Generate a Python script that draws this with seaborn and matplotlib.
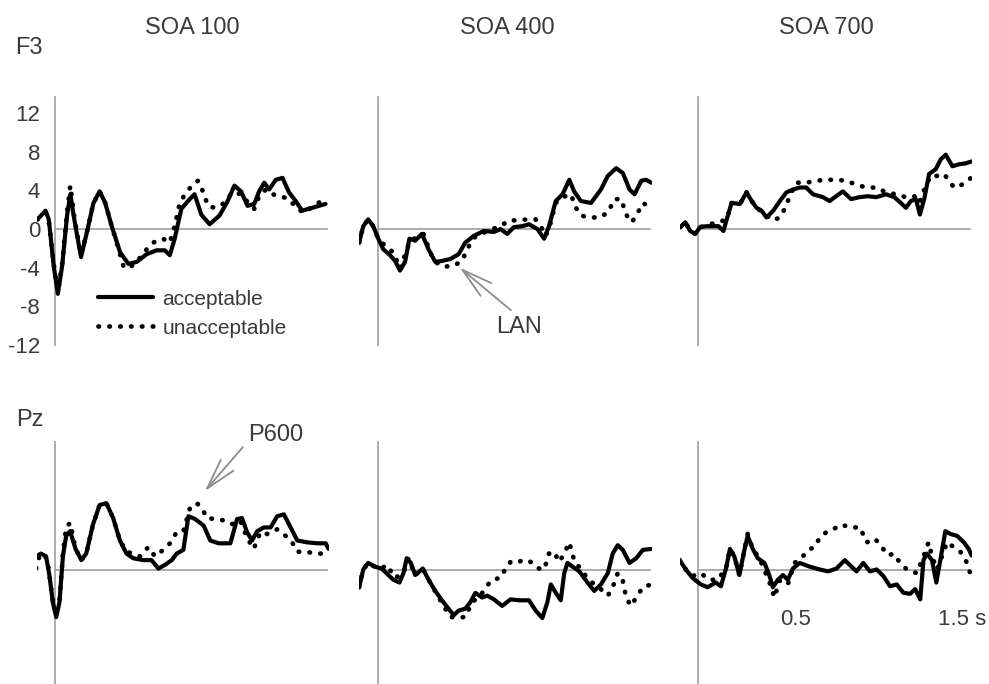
import matplotlib
matplotlib.use("Agg")
import matplotlib.pyplot as plt
import seaborn as sns
import pandas as pd

sns.set_style("white")
plt.rcParams["font.family"] = ["Liberation Sans", "DejaVu Sans"]

# ---------------- data (time in s, amplitude in microvolt) ----------------
conditions = ["acceptable", "unacceptable"]
soa_titles = ["SOA 100", "SOA 400", "SOA 700"]
electrodes = ["F3", "Pz"]
ytick_values = [-12, -8, -4, 0, 4, 8, 12]
xtick_values = [0.5, 1.0, 1.5]

# F3, SOA 100
t_f3_100_acc = [-0.10, -0.055, -0.037, -0.01, 0.013, 0.037, 0.064, 0.082, 0.104, 0.141, 0.174, 0.21, 0.244, 0.275, 0.311, 0.357, 0.403, 0.449, 0.504, 0.559, 0.604, 0.632, 0.659, 0.696, 0.742, 0.769, 0.806, 0.852, 0.907, 0.952, 0.989, 1.026, 1.062, 1.099, 1.126, 1.154, 1.181, 1.218, 1.255, 1.291, 1.328, 1.364, 1.419, 1.493]
v_f3_100_acc = [1.0, 1.9, 1.0, -3.8, -6.7, -3.8, 1.4, 3.6, 1.0, -2.9, -0.3, 2.7, 3.9, 2.7, 0.3, -2.4, -3.6, -3.4, -2.6, -2.2, -2.2, -2.7, -1.0, 2.1, 3.1, 3.6, 1.5, 0.5, 1.4, 2.9, 4.5, 3.9, 2.4, 2.6, 3.9, 4.8, 4.1, 5.1, 5.3, 3.8, 2.9, 1.9, 2.2, 2.6]
t_f3_100_unacc = [-0.10, -0.055, -0.037, -0.01, 0.013, 0.037, 0.064, 0.082, 0.104, 0.141, 0.174, 0.21, 0.244, 0.275, 0.311, 0.357, 0.375, 0.403, 0.449, 0.504, 0.54, 0.595, 0.632, 0.659, 0.687, 0.723, 0.76, 0.788, 0.815, 0.843, 0.879, 0.925, 0.98, 1.026, 1.071, 1.099, 1.126, 1.163, 1.2, 1.245, 1.291, 1.337, 1.374, 1.43, 1.493]
v_f3_100_unacc = [1.0, 1.7, 0.8, -3.6, -6.5, -3.6, 1.8, 4.5, 1.2, -2.7, -0.3, 2.7, 3.9, 2.7, 0.3, -2.6, -3.8, -4.1, -3.4, -2.1, -1.4, -1.0, -1.4, 0.3, 2.7, 3.8, 4.6, 5.0, 3.9, 2.4, 2.2, 2.6, 3.8, 3.6, 2.6, 2.1, 3.4, 4.1, 3.6, 3.4, 3.1, 2.1, 1.7, 2.4, 3.2]

# F3, SOA 400
t_f3_400_acc = [-0.106, -0.083, -0.056, -0.028, 0.0, 0.028, 0.065, 0.093, 0.12, 0.148, 0.172, 0.204, 0.241, 0.278, 0.315, 0.352, 0.398, 0.444, 0.481, 0.528, 0.583, 0.639, 0.676, 0.713, 0.75, 0.796, 0.833, 0.88, 0.917, 0.944, 0.981, 1.019, 1.056, 1.083, 1.12, 1.176, 1.231, 1.269, 1.315, 1.352, 1.389, 1.417, 1.454, 1.481, 1.509]
v_f3_400_acc = [-1.4, 0.3, 1.0, 0.3, -1.0, -2.1, -2.7, -3.3, -4.3, -3.4, -1.0, -1.2, -0.5, -2.1, -3.4, -3.3, -3.1, -2.6, -1.4, -0.7, -0.2, -0.3, 0.0, -0.5, 0.2, 0.3, 0.5, 0.0, -1.0, 0.3, 2.9, 3.6, 5.1, 3.9, 2.9, 2.7, 4.1, 5.5, 6.3, 5.8, 4.1, 3.6, 5.0, 5.1, 4.8]
t_f3_400_unacc = [-0.106, -0.083, -0.056, -0.028, 0.0, 0.046, 0.083, 0.12, 0.176, 0.25, 0.306, 0.361, 0.417, 0.463, 0.491, 0.528, 0.602, 0.676, 0.722, 0.769, 0.824, 0.87, 0.898, 0.926, 0.954, 0.981, 1.019, 1.065, 1.093, 1.12, 1.167, 1.222, 1.269, 1.306, 1.343, 1.37, 1.402, 1.435, 1.463, 1.509]
v_f3_400_unacc = [-1.4, 0.3, 1.0, 0.3, -1.0, -1.9, -2.4, -4.1, -1.2, -0.5, -3.3, -3.9, -3.8, -3.3, -2.1, -0.9, -0.2, 0.3, 0.9, 0.9, 1.0, 1.0, 0.3, -0.7, 0.7, 2.7, 3.3, 3.6, 2.2, 1.4, 1.2, 1.2, 1.7, 3.1, 3.1, 1.5, 0.7, 1.7, 2.7, 2.2]

# F3, SOA 700
t_f3_700_acc = [-0.101, -0.073, -0.046, -0.018, 0.009, 0.046, 0.083, 0.11, 0.138, 0.156, 0.183, 0.229, 0.266, 0.294, 0.321, 0.349, 0.376, 0.413, 0.45, 0.486, 0.523, 0.56, 0.596, 0.633, 0.688, 0.725, 0.761, 0.798, 0.844, 0.89, 0.936, 0.982, 1.037, 1.083, 1.119, 1.147, 1.174, 1.202, 1.224, 1.248, 1.275, 1.312, 1.339, 1.367, 1.404, 1.44, 1.477, 1.51]
v_f3_700_acc = [0.2, 0.7, -0.2, -0.5, 0.2, 0.3, 0.3, 0.3, -0.2, 1.0, 2.7, 2.6, 3.8, 2.9, 2.2, 1.9, 1.2, 1.9, 2.9, 3.8, 4.1, 4.3, 4.3, 3.6, 3.3, 2.9, 3.4, 3.9, 3.1, 3.3, 3.4, 3.3, 3.6, 3.3, 2.7, 2.2, 2.9, 3.1, 1.5, 3.1, 5.7, 6.2, 7.2, 7.7, 6.5, 6.7, 6.8, 7.0]
t_f3_700_unacc = [-0.101, -0.073, -0.046, -0.018, 0.009, 0.064, 0.11, 0.156, 0.183, 0.229, 0.266, 0.294, 0.321, 0.376, 0.413, 0.45, 0.477, 0.514, 0.541, 0.596, 0.651, 0.706, 0.761, 0.817, 0.872, 0.927, 0.982, 1.037, 1.092, 1.147, 1.193, 1.22, 1.257, 1.284, 1.321, 1.358, 1.385, 1.413, 1.45, 1.477, 1.51]
v_f3_700_unacc = [0.2, 0.7, -0.2, -0.5, 0.2, 0.5, 0.7, 1.0, 2.7, 2.6, 3.8, 2.9, 2.2, 1.4, 0.9, 1.2, 2.1, 3.8, 4.8, 4.8, 5.0, 5.1, 5.1, 5.0, 4.6, 4.3, 4.3, 3.8, 3.6, 3.3, 3.4, 2.7, 4.5, 5.5, 5.5, 5.7, 5.0, 4.3, 4.5, 5.0, 5.3]

# Pz, SOA 100
t_pz_100_acc = [-0.107, -0.08, -0.052, -0.033, -0.015, 0.004, 0.022, 0.041, 0.059, 0.081, 0.111, 0.143, 0.17, 0.207, 0.244, 0.281, 0.319, 0.356, 0.393, 0.43, 0.485, 0.531, 0.569, 0.606, 0.643, 0.67, 0.707, 0.735, 0.772, 0.819, 0.856, 0.902, 0.967, 1.004, 1.031, 1.059, 1.087, 1.115, 1.152, 1.189, 1.226, 1.263, 1.3, 1.337, 1.393, 1.448, 1.494, 1.51]
v_pz_100_acc = [1.5, 1.8, 1.5, -0.6, -3.4, -5.0, -3.4, 1.5, 3.7, 4.2, 2.3, 1.1, 1.8, 4.9, 7.0, 7.2, 5.6, 3.2, 1.8, 1.3, 1.1, 1.1, 0.2, 0.6, 1.1, 1.8, 2.2, 5.8, 5.5, 4.8, 3.2, 2.9, 2.9, 5.5, 5.6, 4.1, 3.2, 4.2, 4.6, 4.6, 5.8, 6.0, 4.6, 3.2, 3.0, 2.9, 2.9, 2.3]
t_pz_100_unacc = [-0.107, -0.089, -0.061, -0.043, -0.015, 0.004, 0.022, 0.041, 0.059, 0.081, 0.111, 0.143, 0.17, 0.207, 0.244, 0.281, 0.319, 0.356, 0.393, 0.43, 0.467, 0.513, 0.55, 0.596, 0.633, 0.67, 0.707, 0.744, 0.781, 0.809, 0.837, 0.883, 0.948, 0.985, 1.022, 1.059, 1.096, 1.133, 1.17, 1.226, 1.272, 1.309, 1.337, 1.383, 1.439, 1.476, 1.51]
v_pz_100_unacc = [0.2, 1.5, 1.8, 0.8, -3.2, -4.8, -3.2, 1.8, 4.6, 5.1, 2.3, 1.1, 1.8, 4.9, 7.0, 7.2, 5.6, 3.2, 2.0, 1.8, 1.5, 2.5, 1.5, 2.2, 2.9, 4.1, 4.2, 6.7, 7.2, 6.7, 5.6, 5.5, 5.3, 4.9, 5.3, 3.5, 2.3, 4.1, 3.9, 4.4, 3.7, 3.0, 2.0, 2.0, 1.8, 1.8, 2.3]

# Pz, SOA 400
t_pz_400_acc = [-0.106, -0.083, -0.056, -0.019, 0.019, 0.056, 0.083, 0.117, 0.139, 0.157, 0.18, 0.204, 0.246, 0.278, 0.315, 0.352, 0.38, 0.417, 0.444, 0.481, 0.509, 0.537, 0.574, 0.602, 0.639, 0.685, 0.731, 0.778, 0.833, 0.87, 0.907, 0.935, 0.954, 0.981, 1.009, 1.028, 1.046, 1.074, 1.111, 1.157, 1.194, 1.231, 1.269, 1.296, 1.324, 1.352, 1.389, 1.426, 1.463, 1.509]
v_pz_400_acc = [-1.8, 0.1, 0.8, 0.4, 0.2, -0.5, -1.0, -1.3, -0.3, 1.3, 0.8, -0.5, 0.2, -1.0, -2.2, -3.2, -3.9, -4.8, -4.3, -4.1, -3.4, -2.4, -2.9, -2.7, -3.1, -3.8, -3.1, -3.2, -3.2, -4.3, -5.1, -3.4, -1.5, -2.4, -3.2, -0.3, 0.8, 0.4, -0.1, -1.3, -2.2, -1.5, -0.3, 1.8, 2.7, 2.2, 0.8, 1.3, 2.2, 2.3]
t_pz_400_unacc = [-0.106, -0.083, -0.056, -0.019, 0.019, 0.046, 0.093, 0.139, 0.167, 0.204, 0.246, 0.278, 0.343, 0.398, 0.444, 0.481, 0.519, 0.565, 0.598, 0.63, 0.676, 0.704, 0.731, 0.769, 0.796, 0.824, 0.852, 0.889, 0.917, 0.944, 0.972, 1.0, 1.028, 1.056, 1.083, 1.12, 1.167, 1.213, 1.269, 1.296, 1.324, 1.352, 1.37, 1.398, 1.426, 1.463, 1.509]
v_pz_400_unacc = [-1.8, 0.1, 0.8, 0.4, 0.2, 0.6, -0.8, -0.3, 1.3, -0.5, 0.2, -1.0, -3.2, -5.0, -5.0, -5.0, -3.4, -2.7, -1.7, -1.0, -0.8, 0.2, 0.9, 0.8, 1.1, 1.1, 0.8, 0.2, 0.1, 1.8, 2.0, 0.9, 1.8, 3.0, 1.1, 0.1, -1.1, -1.7, -2.7, -1.8, -0.3, -1.1, -2.9, -3.8, -2.9, -1.8, -1.5]

# Pz, SOA 700
t_pz_700_acc = [-0.104, -0.07, -0.033, 0.013, 0.05, 0.096, 0.124, 0.152, 0.174, 0.198, 0.226, 0.254, 0.272, 0.3, 0.328, 0.365, 0.393, 0.411, 0.439, 0.467, 0.494, 0.522, 0.559, 0.615, 0.67, 0.717, 0.763, 0.809, 0.846, 0.874, 0.911, 0.948, 0.985, 1.022, 1.059, 1.096, 1.133, 1.17, 1.198, 1.226, 1.244, 1.263, 1.291, 1.315, 1.337, 1.365, 1.393, 1.43, 1.467, 1.494, 1.51]
v_pz_700_acc = [1.1, 0.1, -0.8, -1.5, -1.8, -1.3, -1.7, 0.2, 2.3, 1.5, -0.5, 2.2, 3.7, 2.3, 1.3, 0.8, -0.6, -1.8, -1.0, -0.5, -1.0, 0.2, 0.8, 0.4, 0.1, -0.1, 0.2, 1.1, 0.4, -0.1, 0.8, -0.1, 0.1, -0.6, -1.7, -1.5, -2.4, -2.5, -2.0, -3.1, 1.1, 1.8, 1.1, -1.3, 1.1, 4.2, 3.9, 3.7, 3.0, 2.3, 1.6]
t_pz_700_unacc = [-0.104, -0.07, -0.033, 0.013, 0.059, 0.106, 0.152, 0.174, 0.198, 0.226, 0.254, 0.272, 0.3, 0.337, 0.393, 0.42, 0.448, 0.494, 0.531, 0.569, 0.606, 0.643, 0.67, 0.707, 0.744, 0.791, 0.837, 0.893, 0.93, 0.976, 1.013, 1.05, 1.078, 1.115, 1.152, 1.207, 1.244, 1.272, 1.291, 1.319, 1.346, 1.374, 1.411, 1.448, 1.485, 1.51]
v_pz_700_unacc = [1.1, 0.1, -0.6, -0.3, -1.0, -1.0, 0.2, 2.3, 1.5, -0.5, 2.2, 3.9, 2.3, 1.3, -1.3, -2.9, -1.1, -1.5, 0.8, 1.3, 2.2, 2.5, 3.5, 4.1, 4.4, 4.9, 4.6, 4.6, 3.0, 3.4, 2.5, 1.6, 1.8, 0.8, 0.1, -0.3, 1.5, 3.0, 1.5, 0.1, 1.5, 3.0, 2.5, 2.0, 0.8, -0.8]

panels = {
    ("F3", 0): (t_f3_100_acc, v_f3_100_acc, t_f3_100_unacc, v_f3_100_unacc),
    ("F3", 1): (t_f3_400_acc, v_f3_400_acc, t_f3_400_unacc, v_f3_400_unacc),
    ("F3", 2): (t_f3_700_acc, v_f3_700_acc, t_f3_700_unacc, v_f3_700_unacc),
    ("Pz", 0): (t_pz_100_acc, v_pz_100_acc, t_pz_100_unacc, v_pz_100_unacc),
    ("Pz", 1): (t_pz_400_acc, v_pz_400_acc, t_pz_400_unacc, v_pz_400_unacc),
    ("Pz", 2): (t_pz_700_acc, v_pz_700_acc, t_pz_700_unacc, v_pz_700_unacc),
}

# ---------------- layout ----------------
W, H = 989, 684
fig = plt.figure(figsize=(W / 100, H / 100), dpi=100)
TXT = "#3a3a3a"
AXC = "#a6a6a6"

col_left_px = [36.5, 359.3, 679.5]
col_w_px = 293
rows = {"F3": (96.7, 345.0, (-12.0, 13.7)), "Pz": (441.5, 682.5, (-11.3, 13.8))}
XLIM = (-0.105, 1.515)

dot_style = (0, (0.1, 2.2))
axes = {}
for el in electrodes:
    top_px, bot_px, ylim = rows[el]
    for ci in range(3):
        ax = fig.add_axes([col_left_px[ci] / W, 1 - bot_px / H,
                           col_w_px / W, (bot_px - top_px) / H])
        axes[(el, ci)] = ax
        ta, va, tu, vu = panels[(el, ci)]
        df_a = pd.DataFrame({"time": ta, "uV": va})
        df_u = pd.DataFrame({"time": tu, "uV": vu})
        sns.lineplot(data=df_a, x="time", y="uV", ax=ax, color="black",
                     linewidth=3.0, estimator=None, sort=False,
                     solid_capstyle="round", solid_joinstyle="round",
                     label=conditions[0], legend=False, zorder=3)
        sns.lineplot(data=df_u, x="time", y="uV", ax=ax, color="black",
                     linewidth=3.4, linestyle=dot_style, estimator=None,
                     sort=False, dash_capstyle="round",
                     label=conditions[1], legend=False, zorder=2)
        ax.set_xlim(*XLIM)
        ax.set_ylim(*ylim)
        ax.set_xlabel("")
        ax.set_ylabel("")
        ax.set_facecolor("none")
        for s in ["top", "right"]:
            ax.spines[s].set_visible(False)
        ax.spines["left"].set_position(("data", 0))
        ax.spines["bottom"].set_position(("data", 0))
        ax.spines["bottom"].set_bounds(0, 1.5)
        for s in ["left", "bottom"]:
            ax.spines[s].set_color(AXC)
            ax.spines[s].set_linewidth(1.3)
            ax.spines[s].set_zorder(1)
        ax.set_xticks(xtick_values)
        ax.set_xticklabels([])
        ax.set_yticks(ytick_values)
        if el == "F3" and ci == 0:
            ax.set_yticklabels([str(v) for v in ytick_values])
        else:
            ax.set_yticklabels([])
        ax.tick_params(axis="both", length=3, width=1, color=AXC,
                       direction="out", labelsize=16, labelcolor=TXT, pad=8)

# legend in the F3 / SOA 100 panel
ax0 = axes[("F3", 0)]
h = ax0.get_lines()[:2]
ax0.legend(handles=h, labels=conditions, loc="upper left",
           bbox_to_anchor=(0.21, 0.223), frameon=False, fontsize=15,
           handlelength=2.65, handletextpad=0.45, labelspacing=0.48,
           borderpad=0, borderaxespad=0, labelcolor=TXT)

# titles and electrode labels
for ci, title in enumerate(soa_titles):
    x_px = [192, 507, 826][ci]
    fig.text(x_px / W, 1 - 28 / H, title, ha="center", va="center",
             fontsize=17, color=TXT)
fig.text(29 / W, 1 - 48 / H, electrodes[0], ha="center", va="center",
         fontsize=17, color=TXT)
fig.text(30 / W, 1 - 420 / H, electrodes[1], ha="center", va="center",
         fontsize=17, color=TXT)

# annotations
arrow_kw = dict(arrowstyle="->,head_length=1.1,head_width=0.3",
                color="#8c8c8c", lw=1.3, mutation_scale=20,
                shrinkA=0, shrinkB=0)
axl = axes[("F3", 1)]
axl.annotate("", xy=(0.451, -4.0), xytext=(0.733, -8.4), arrowprops=arrow_kw)
axl.text(0.777, -10.1, "LAN", ha="center", va="center", fontsize=17, color=TXT)

axp = axes[("Pz", 0)]
axp.annotate("", xy=(0.826, 8.5), xytext=(1.036, 13.2), arrowprops=arrow_kw,
             annotation_clip=False)
axp.text(1.218, 14.5, "P600", ha="center", va="center", fontsize=17,
         color=TXT, clip_on=False)

axr = axes[("Pz", 2)]
axr.text(0.539, -5.3, "0.5", ha="center", va="center", fontsize=16, color=TXT)
axr.text(1.456, -5.3, "1.5 s", ha="center", va="center", fontsize=16, color=TXT)

fig.savefig("out.png", dpi=100)
